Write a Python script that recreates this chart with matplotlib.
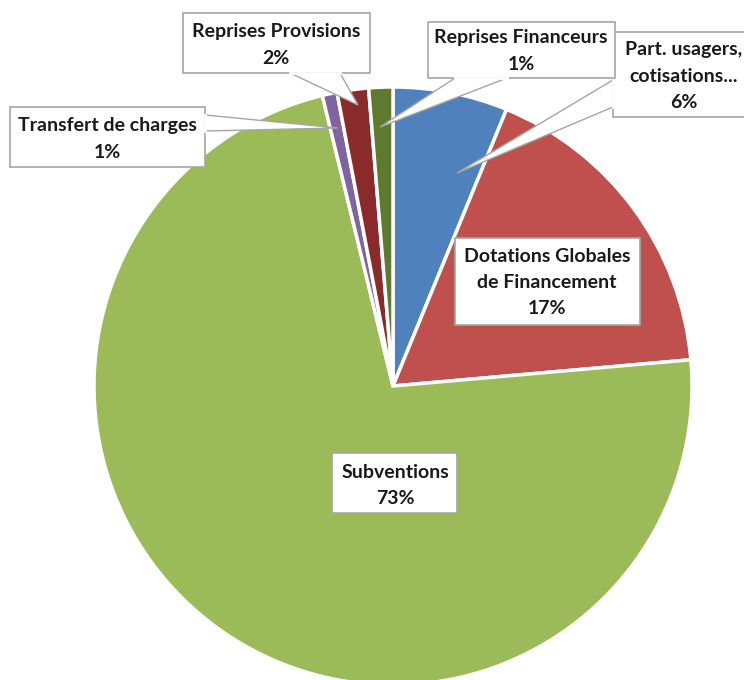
import matplotlib
matplotlib.use('Agg')
import matplotlib.pyplot as plt
from matplotlib.patches import Rectangle, Polygon

# slices, clockwise from 12 o'clock
names = ['Part. usagers,\ncotisations...', 'Dotations Globales\nde Financement', 'Subventions',
         'Transfert de charges', 'Reprises Provisions', 'Reprises Financeurs']
shares = [6.2, 17.4, 72.6, 0.8, 1.7, 1.3]
colors = ['#4F81BD', '#C0504D', '#9BBB59', '#8064A2', '#8B2A2A', '#5E7A2E']

W, H = 744, 680
plt.rcParams['font.family'] = ['Lato', 'DejaVu Sans']

fig = plt.figure(figsize=(W / 100, H / 100), dpi=100)
ax = fig.add_axes([0, 0, 1, 1])

def P(x, y):
    # pixel coords (origin top-left) -> data coords
    return (x, H - y)

ax.pie(shares, colors=colors, startangle=90, counterclock=False,
       center=P(393, 386), radius=299, frame=True,
       wedgeprops=dict(edgecolor='white', linewidth=2.5))
ax.set_xlim(0, W)
ax.set_ylim(0, H)
ax.set_aspect('equal')
ax.axis('off')

edge = '#A6A6A6'

# label boxes: (x0, y0, x1, y1), text centre x, first line y
boxes = [
    ((613, 32, 760, 117), 684, 50),
    ((455, 238, 640, 325), 547, 257),
    ((332, 453, 457, 513), 395, 472),
    ((10, 107, 205, 167), 107, 126),
    ((183, 13, 370, 73), 276, 32),
    ((428, 22, 615, 78), 521, 38),
]
# callout pointers: base point a, base point b, tip (None = no pointer)
pointers = [
    ((613, 80), (613, 107), (457, 173)),
    None,
    None,
    ((205, 115), (205, 131), (338, 128)),
    ((290, 73), (340, 73), (358, 105)),
    ((455, 78), (507, 78), (380, 127)),
]

for i, name in enumerate(names):
    (x0, y0, x1, y1), tx, ty = boxes[i]
    ax.add_patch(Rectangle(P(x0, y1), x1 - x0, y1 - y0, facecolor='white',
                           edgecolor=edge, linewidth=1.2, zorder=5))
    ptr = pointers[i]
    if ptr is not None:
        a, b, tip = ptr
        ax.add_patch(Polygon([P(*a), P(*tip), P(*b)], closed=True, facecolor='white',
                             edgecolor=edge, linewidth=1.0, zorder=6))
        ax.plot([P(*a)[0], P(*b)[0]], [P(*a)[1], P(*b)[1]], color='white',
                linewidth=2.0, zorder=7)
    pct = '%d%%' % round(shares[i])
    lines = name.split('\n') + [pct]
    for k, line in enumerate(lines):
        ax.text(*P(tx, ty + k * 26), line, ha='center', va='center', fontsize=14,
                fontweight='bold', color='#1A1A1A', zorder=8)

fig.savefig('out.png', dpi=100)
